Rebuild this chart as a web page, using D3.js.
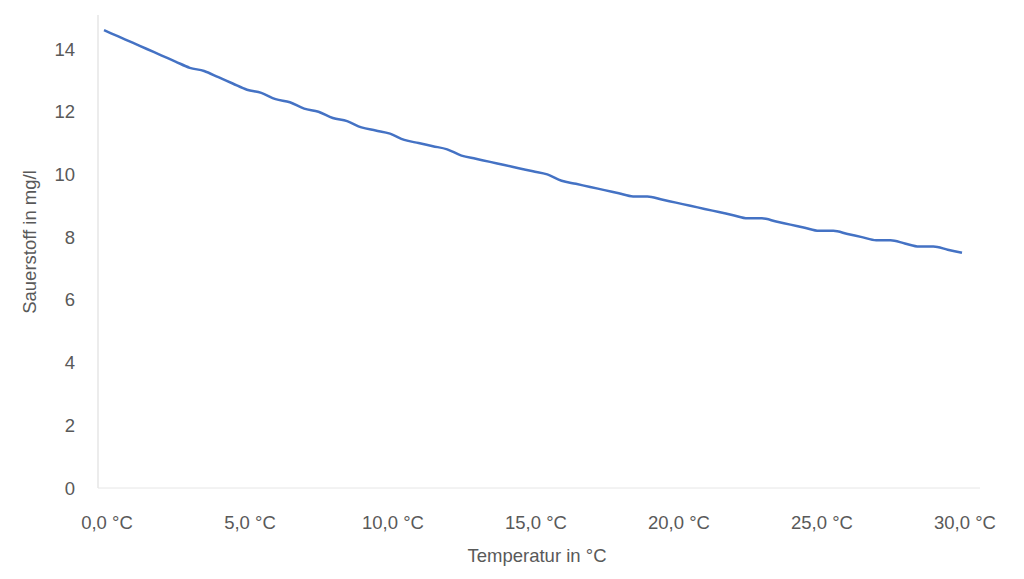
<!DOCTYPE html>
<html><head><meta charset="utf-8">
<script src="https://cdn.jsdelivr.net/npm/d3@7"></script>
<style>body{margin:0;background:#fff}text{font-family:"Liberation Sans",Arial,sans-serif;fill:#595959}</style>
</head><body><svg id="c" width="1024" height="579"></svg>
<script>
const temps = d3.range(0, 30.01, 0.5);
const oxygen = [14.6,14.4,14.2,14.0,13.8,13.6,13.4,13.3,13.1,12.9,12.7,12.6,12.4,12.3,12.1,12.0,11.8,11.7,11.5,11.4,11.3,11.1,11.0,10.9,10.8,10.6,10.5,10.4,10.3,10.2,10.1,10.0,9.8,9.7,9.6,9.5,9.4,9.3,9.3,9.2,9.1,9.0,8.9,8.8,8.7,8.6,8.6,8.5,8.4,8.3,8.2,8.2,8.1,8.0,7.9,7.9,7.8,7.7,7.7,7.6,7.5];
const xTicks = [0,5,10,15,20,25,30];
const yTicks = [0,2,4,6,8,10,12,14];

const svg = d3.select("#c");
const x = d3.scaleLinear().domain([0,30]).range([104,962]);
const y = d3.scaleLinear().domain([0,14]).range([488,49]);

svg.append("line").attr("x1",98).attr("x2",98).attr("y1",15).attr("y2",488).attr("stroke","#d9d9d9");
svg.append("line").attr("x1",98).attr("x2",980).attr("y1",488).attr("y2",488).attr("stroke","#e6e6e6");

svg.selectAll(".yt").data(yTicks).join("text").attr("x",75).attr("y",d=>y(d)+6.5)
  .attr("text-anchor","end").attr("font-size",18.5).text(d=>d);
svg.selectAll(".xt").data(xTicks).join("text").attr("x",d=>x(d)+3).attr("y",529)
  .attr("text-anchor","middle").attr("font-size",18.5).text(d=>d.toFixed(1).replace(".",",")+" °C");

svg.append("text").attr("x",537).attr("y",562).attr("text-anchor","middle").attr("font-size",18.5).text("Temperatur in °C");
svg.append("text").attr("transform","translate(36,242) rotate(-90)").attr("text-anchor","middle").attr("font-size",18.5).text("Sauerstoff in mg/l");

svg.append("path").datum(temps.map((t,i)=>[t,oxygen[i]]))
  .attr("d",d3.line().x(d=>x(d[0])).y(d=>y(d[1])).curve(d3.curveMonotoneX))
  .attr("fill","none").attr("stroke","#4472C4").attr("stroke-width",2.5);
</script></body></html>
